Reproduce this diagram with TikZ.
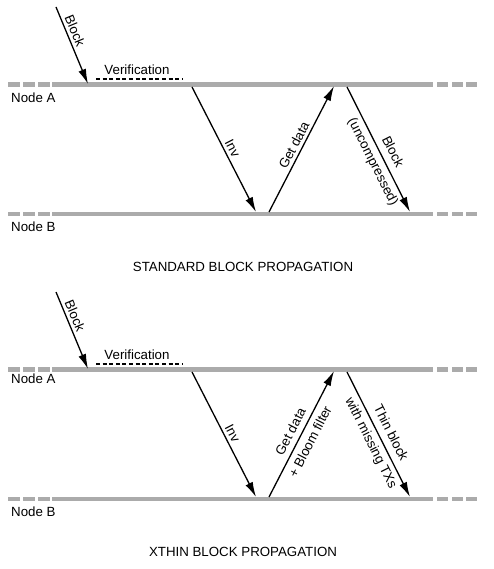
\documentclass[tikz,border=0pt]{standalone}
\usepackage{fontspec}
\setmainfont{Liberation Sans}
\usetikzlibrary{arrows.meta,positioning}

\tikzset{
  timeline/.style={line width=4.5pt, draw=black!33},
  msg/.style={line width=1.3pt, -{Latex[length=15pt,width=8pt]}},
  verif/.style={line width=1.2pt, dash pattern=on 4pt off 2.6pt},
  lbl/.style={font=\fontsize{13.3}{16}\selectfont, inner sep=3pt},
  twolbl/.style={lbl, align=center},
}

\begin{document}
\begin{tikzpicture}[x=1pt, y=-1pt]
  \useasboundingbox (0,0) rectangle (493,569);

  % ----- standard block propagation -----
  % Time lines
  \foreach \a/\b in {8/20,23/35,38/50,52/433,437/448,452/463,466/477}{
    \draw[timeline] (\a,84.5) -- (\b,84.5);
    \draw[timeline] (\a,214) -- (\b,214);
  }
  \node[lbl, anchor=west] (A1) at (8,97.5) {Node A};
  \node[lbl, anchor=west] (B1) at (8,227) {Node B};

  % Define points
  \coordinate (in1) at (56,7);
  \coordinate (rx1) at (88,84);
  \coordinate (inv1) at (192,87);
  \coordinate (invB1) at (256,212);
  \coordinate (get1) at (269,212);
  \coordinate (getA1) at (334,86);
  \coordinate (blk1) at (347,87);
  \coordinate (blkB1) at (410,212);

  \node[lbl] (ver1) at (137,70) {Verification};
  \coordinate (vw1) at (96,79);
  \coordinate (ve1) at (182,79);
  \draw[verif] (vw1) -- (ve1);

  % Messages
  \draw[msg] (in1) -- (rx1) node[lbl, pos=0.35, above, sloped] {Block};
  \draw[msg] (inv1) -- (invB1) node[lbl, pos=0.52, above, sloped] {Inv};
  \draw[msg] (get1) -- (getA1) node[lbl, pos=0.5, above, sloped] {Get data};
  \draw[msg] (blk1) -- (blkB1) node[twolbl, pos=0.56, sloped] {Block\\[6pt](uncompressed)};

  \node[lbl] (T1) at (243,267) {STANDARD BLOCK PROPAGATION};

  % ----- xthin block propagation -----
  \begin{scope}[yshift=-285pt]
    % Time lines
    \foreach \a/\b in {8/20,23/35,38/50,52/433,437/448,452/463,466/477}{
      \draw[timeline] (\a,84.5) -- (\b,84.5);
      \draw[timeline] (\a,214) -- (\b,214);
    }
    \node[lbl, anchor=west] (A2) at (8,93.5) {Node A};
    \node[lbl, anchor=west] (B2) at (8,227) {Node B};

    % Define points
    \coordinate (in2) at (56,7);
    \coordinate (rx2) at (88,84);
    \coordinate (inv2) at (192,87);
    \coordinate (invB2) at (256,212);
    \coordinate (get2) at (269,212);
    \coordinate (getA2) at (334,86);
    \coordinate (blk2) at (347,87);
    \coordinate (blkB2) at (410,212);

    \node[lbl] (ver2) at (137,70) {Verification};
    \coordinate (vw2) at (96,79);
    \coordinate (ve2) at (182,79);
    \draw[verif] (vw2) -- (ve2);

    % Messages
    \draw[msg] (in2) -- (rx2) node[lbl, pos=0.35, above, sloped] {Block};
    \draw[msg] (inv2) -- (invB2) node[lbl, pos=0.52, above, sloped] {Inv};
    \draw[msg] (get2) -- (getA2) node[twolbl, pos=0.48, sloped] {Get data\\[6pt]+ Bloom filter};
    \draw[msg] (blk2) -- (blkB2) node[twolbl, pos=0.53, sloped] {Thin block\\[6pt]with missing TXs};

    \node[lbl] (T2) at (243,267) {XTHIN BLOCK PROPAGATION};
  \end{scope}
\end{tikzpicture}
\end{document}
